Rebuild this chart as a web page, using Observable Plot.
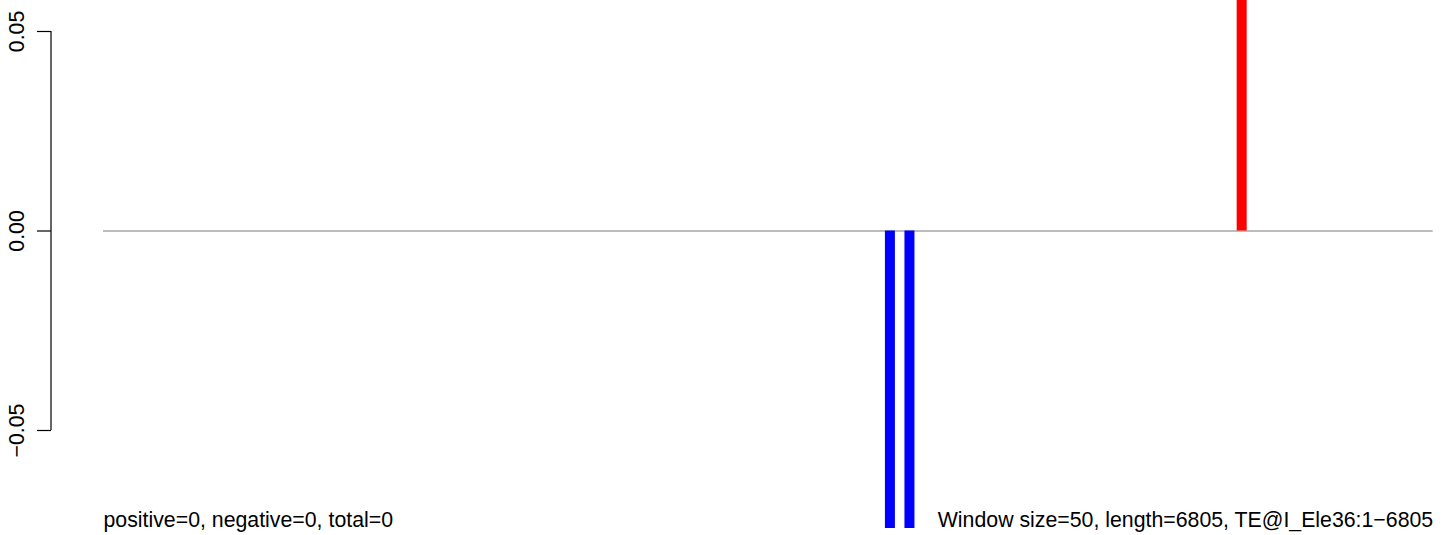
<!DOCTYPE html>
<html><head><meta charset="utf-8">
<script src="https://cdn.jsdelivr.net/npm/d3@7"></script>
<script src="https://cdn.jsdelivr.net/npm/@observablehq/plot@0.6"></script>
<style>html,body{margin:0;padding:0;background:#fff} svg{display:block}</style>
</head><body><div id="chart"></div>
<script>
const seqLength = 6805;
const windowSize = 50;
const windowStarts = [4000, 4100, 5800];
const windowValues = [-1, -1, 1];   // extend past the visible range (clipped)
const yTicks = [-0.05, 0, 0.05];
const leftLabel = "positive=0, negative=0, total=0";
const rightLabel = "Window size=50, length=6805, TE@I_Ele36:1\u22126805";

const bars = windowStarts.map((s, i) => ({mid: s + windowSize / 2, value: windowValues[i]}));
const fontFamily = "'Liberation Sans', Arial, Helvetica, sans-serif";
const fs = 21.3;

const plot = Plot.plot({
  width: 1444, height: 535,
  marginTop: 0, marginBottom: 7, marginLeft: 51, marginRight: 0,
  style: {fontFamily, fontSize: fs + "px", background: "white", color: "black"},
  x: {domain: [1, seqLength], range: [103, 1432.7], axis: null},
  y: {domain: [-0.05, 0.05], range: [430, 31], axis: null},
  marks: [
    Plot.ruleY([0], {x1: 1, x2: seqLength, stroke: "#7a7a7a", strokeWidth: 1}),
    Plot.ruleX(bars.filter(d => d.value < 0), {x: "mid", y1: 0, y2: "value", stroke: "#0000ff", strokeWidth: 10, clip: true}),
    Plot.ruleX(bars.filter(d => d.value > 0), {x: "mid", y1: 0, y2: "value", stroke: "#ff0000", strokeWidth: 10, clip: true}),
    Plot.axisY(yTicks, {anchor: "left", tickSize: 14, tickFormat: () => "", label: null, stroke: "black", strokeWidth: 1.2}),
    Plot.text(yTicks, {y: d => d, text: d => d3.format(".2f")(d), frameAnchor: "left", dx: -28, rotate: -90,
      textAnchor: "middle", lineAnchor: "bottom", fontSize: fs, fill: "black"}),
    Plot.text([{x: 1, label: leftLabel}], {x: "x", text: "label", frameAnchor: "bottom", textAnchor: "start", lineAnchor: "bottom", dy: -2, fontSize: fs, fill: "black"}),
    Plot.text([{x: seqLength, label: rightLabel}], {x: "x", text: "label", frameAnchor: "bottom", textAnchor: "end", lineAnchor: "bottom", dy: -2, fontSize: fs, fill: "black"})
  ]
});

// y axis line between the outer ticks, positioned with Plot's y scale
const ys = plot.scale("y");
d3.select(plot).append("line")
  .attr("x1", 51).attr("x2", 51)
  .attr("y1", ys.apply(d3.max(yTicks))).attr("y2", ys.apply(d3.min(yTicks)))
  .attr("stroke", "black").attr("stroke-width", 1.2);

document.getElementById("chart").appendChild(plot);
</script>
</body></html>
